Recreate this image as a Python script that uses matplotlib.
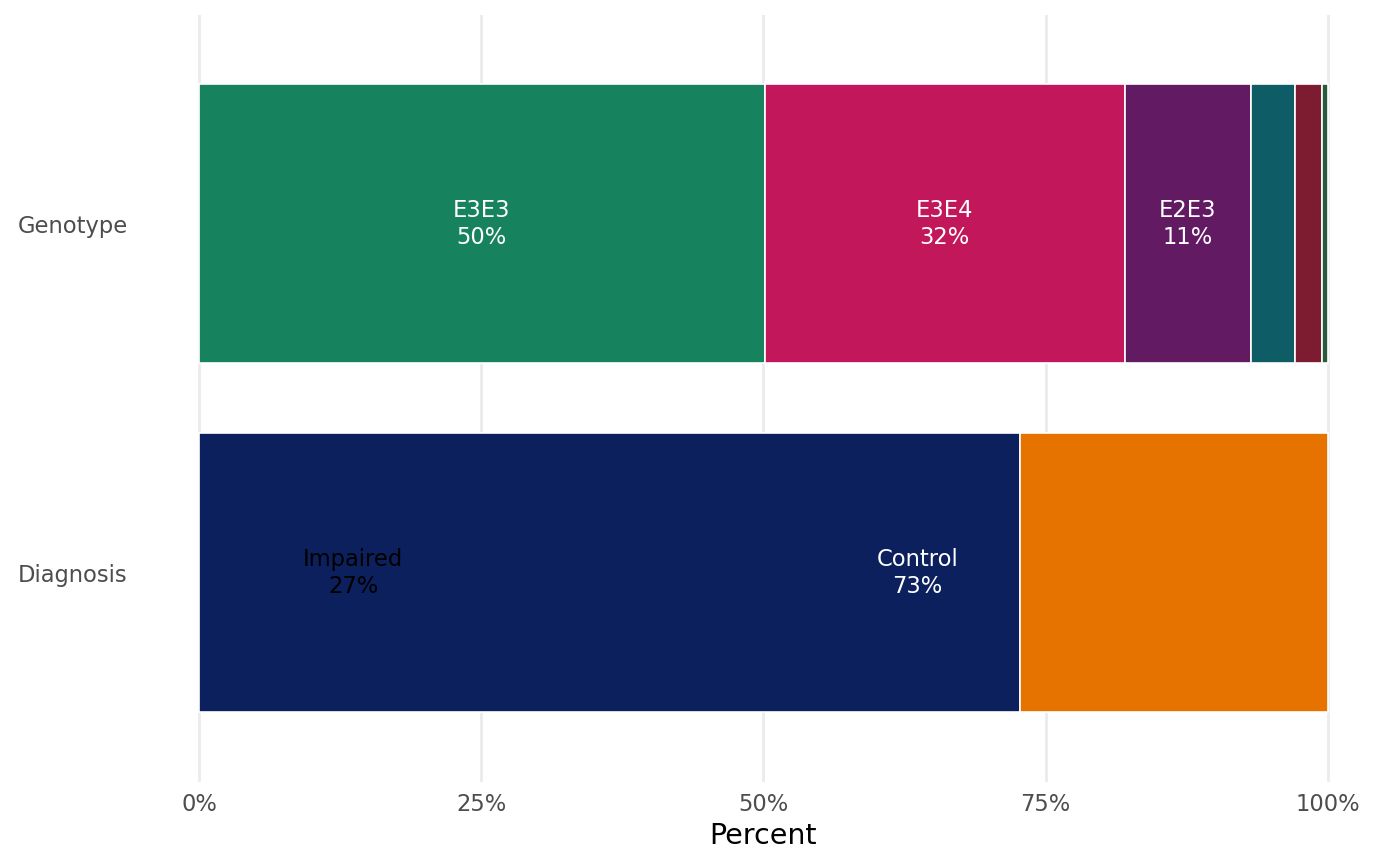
import matplotlib
matplotlib.use("Agg")
import matplotlib.pyplot as plt
import numpy as np

# data (percent of samples)
geno_names = ["E3E3", "E3E4", "E2E3", "E2E4", "E4E4", "E2E2"]
geno_pct = [50.1, 31.9, 11.2, 3.9, 2.4, 0.5]
geno_colors = ["#17825E", "#C2185B", "#621B63", "#0E5C66", "#7D1B31", "#2A5A3C"]
geno_labeled = ["E3E3", "E3E4", "E2E3"]

diag_names = ["Control", "Impaired"]
diag_pct = [72.7, 27.3]
diag_colors = ["#0C205E", "#E67300"]
# labels come out in the other order than the bars
diag_label_order = ["Impaired", "Control"]
diag_label_colors = {"Impaired": "black", "Control": "white"}

rows = ["Diagnosis", "Genotype"]
xticks = [0, 25, 50, 75, 100]

plt.rcParams["font.family"] = "DejaVu Sans"
fig = plt.figure(figsize=(14, 8.66), dpi=100)
ax = fig.add_axes([0.102, 0.097, 0.8866, 0.886])

for x in xticks:
    ax.axvline(x / 100, color="#EBEBEB", lw=2, zorder=0)

# genotype bar
left = 0
for name, p, c in zip(geno_names, geno_pct, geno_colors):
    ax.barh(2, p / 100, left=left, height=0.8, color=c, edgecolor="white", lw=1.2, zorder=2)
    if name in geno_labeled:
        ax.text(left + p / 200, 2, f"{name}\n{round(p):.0f}%", ha="center", va="center",
                color="white", fontsize=16.3, linespacing=1.2, zorder=3)
    left += p / 100

# diagnosis bar
left = 0
for name, p, c in zip(diag_names, diag_pct, diag_colors):
    ax.barh(1, p / 100, left=left, height=0.8, color=c, edgecolor="white", lw=1.2, zorder=2)
    left += p / 100

left = 0
for name in diag_label_order:
    p = diag_pct[diag_names.index(name)]
    ax.text(left + p / 200, 1, f"{name}\n{round(p):.0f}%", ha="center", va="center",
            color=diag_label_colors[name], fontsize=16.3, linespacing=1.2, zorder=3)
    left += p / 100

ax.set_xlim(-0.05, 1.05)
ax.set_ylim(0.4, 2.6)
ax.set_xticks([x / 100 for x in xticks])
ax.set_xticklabels([f"{x}%" for x in xticks])
ax.set_yticks([1, 2])
ax.set_yticklabels(rows)
ax.tick_params(length=0, labelsize=16.3, labelcolor="#4D4D4D", pad=8)
ax.tick_params(axis="y", pad=11)
for s in ax.spines.values():
    s.set_visible(False)
ax.set_xlabel("Percent", fontsize=20.5, labelpad=4)

fig.savefig("out.png", dpi=100)
